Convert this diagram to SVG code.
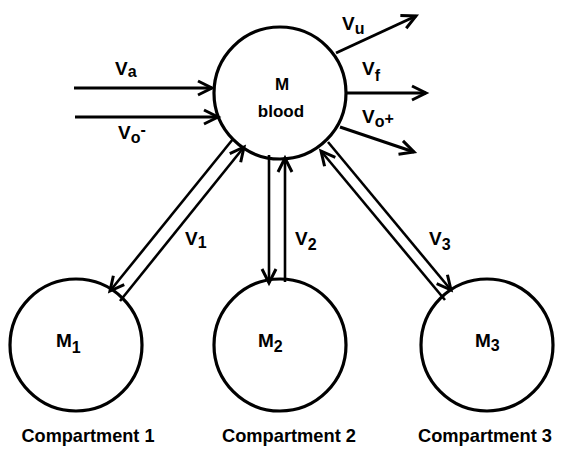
<svg xmlns="http://www.w3.org/2000/svg" width="563" height="450" viewBox="0 0 563 450">
<style>
.c{fill:none;stroke:#000;stroke-width:3.2}
.l{fill:none;stroke:#000;stroke-width:3;marker-end:url(#ah)}
.d{fill:none;stroke:#000;stroke-width:2.6;marker-end:url(#ah)}
text{font-family:"Liberation Sans",Arial,sans-serif;font-weight:bold;fill:#000}
.v{font-size:19px}
.s{font-size:16px}
.m{font-size:19px}
.cap{font-size:19px}
</style>
<defs>
<marker id="ah" markerUnits="userSpaceOnUse" viewBox="-16 -10 18 20" markerWidth="18" markerHeight="20" refX="0" refY="0" orient="auto" overflow="visible">
<path d="M-14 -7 L0 0 L-14 7" fill="none" stroke="#000" stroke-width="3"/>
</marker>
</defs>
<g id="connectors">
<line class="l" x1="74" y1="88" x2="212" y2="88"/>
<line class="l" x1="75" y1="117" x2="218" y2="117"/>
<line class="l" x1="336" y1="53" x2="416" y2="16"/>
<line class="l" x1="347" y1="93" x2="426" y2="93"/>
<line class="l" x1="340" y1="127" x2="414" y2="152"/>
<line class="d" x1="233" y1="139" x2="110" y2="291"/>
<line class="d" x1="120" y1="301" x2="244" y2="147"/>
<line class="d" x1="269" y1="155" x2="269" y2="283"/>
<line class="d" x1="285" y1="282" x2="285" y2="158"/>
<line class="d" x1="328" y1="142" x2="451" y2="290"/>
<line class="d" x1="445" y1="300" x2="321" y2="151"/>
</g>
<g id="labels">
<text class="v" x="115" y="75">V<tspan class="s" dy="2">a</tspan></text>
<text class="v" x="118" y="139">V<tspan class="s" dy="4">o</tspan><tspan class="s" dy="-8">-</tspan></text>
<text class="v" x="342" y="30">V<tspan class="s" dy="4">u</tspan></text>
<text class="v" x="362" y="75">V<tspan class="s" dy="6">f</tspan></text>
<text class="v" x="362" y="123">V<tspan class="s" dy="4">o</tspan><tspan class="s" dy="-3">+</tspan></text>
<text class="v" x="185" y="245">V<tspan class="s" dy="3">1</tspan></text>
<text class="v" x="295" y="245">V<tspan class="s" dy="5">2</tspan></text>
<text class="v" x="429" y="245">V<tspan class="s" dy="5">3</tspan></text>
</g>
<g id="blood">
<circle class="c" cx="280" cy="93" r="66"/>
<text x="282" y="90" font-size="17" text-anchor="middle">M</text>
<text x="281" y="117" font-size="17" text-anchor="middle">blood</text>
</g>
<g id="compartment1">
<circle class="c" cx="76" cy="345" r="66"/>
<text class="m" x="56" y="347">M<tspan class="s" dy="6">1</tspan></text>
<text class="cap" x="88" y="442" text-anchor="middle" textLength="133" lengthAdjust="spacingAndGlyphs">Compartment 1</text>
</g>
<g id="compartment2">
<circle class="c" cx="280" cy="345" r="66"/>
<text class="m" x="258" y="347">M<tspan class="s" dy="5">2</tspan></text>
<text class="cap" x="289" y="442" text-anchor="middle" textLength="134" lengthAdjust="spacingAndGlyphs">Compartment 2</text>
</g>
<g id="compartment3">
<circle class="c" cx="487" cy="345" r="66"/>
<text class="m" x="475" y="347">M<tspan class="s" dy="4">3</tspan></text>
<text class="cap" x="485" y="442" text-anchor="middle" textLength="134" lengthAdjust="spacingAndGlyphs">Compartment 3</text>
</g>
</svg>
